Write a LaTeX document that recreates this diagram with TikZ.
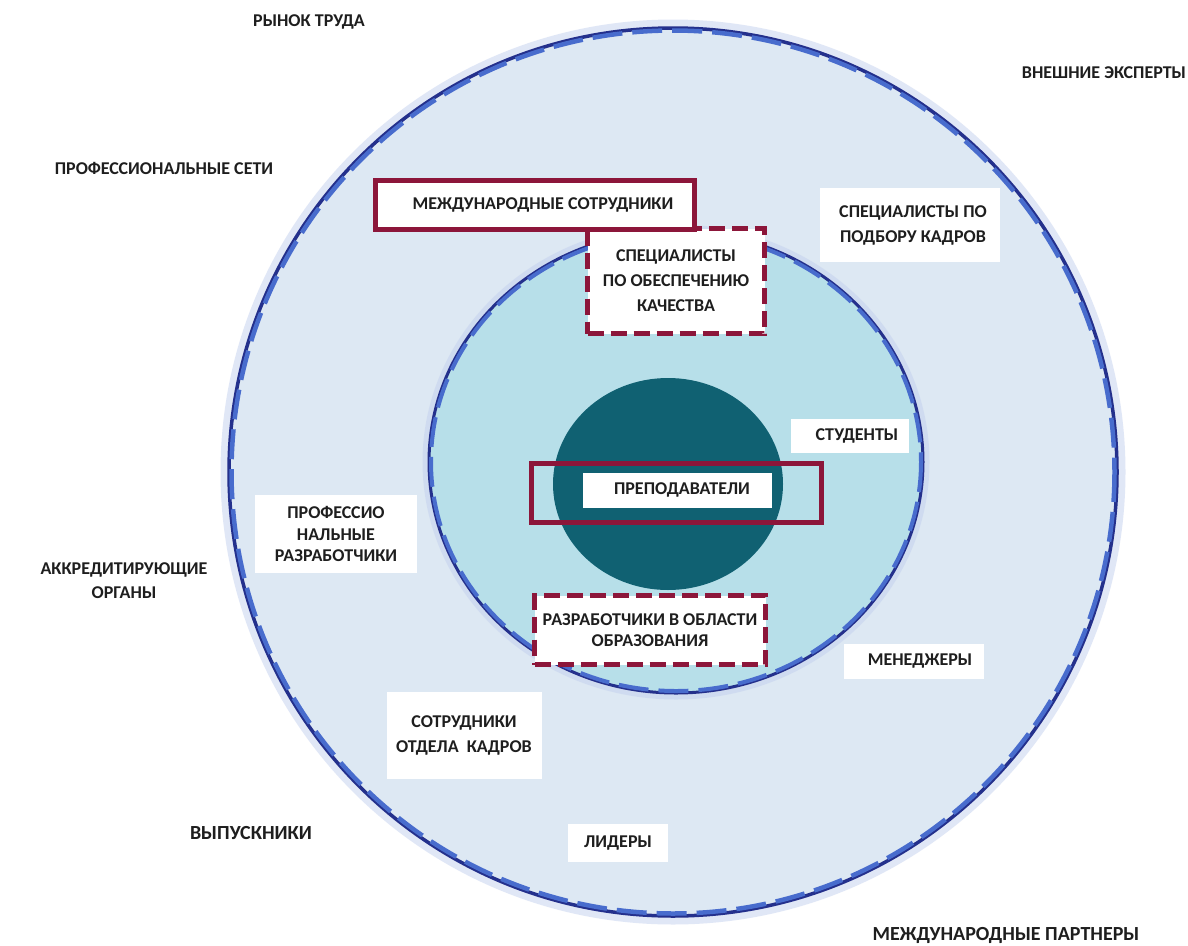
\documentclass[tikz,border=0pt]{standalone}
\usepackage{fontspec}
\setmainfont{Carlito}
\definecolor{outerfill}{RGB}{221,232,243}
\definecolor{midfill}{RGB}{183,223,233}
\definecolor{corefill}{RGB}{16,97,114}
\definecolor{navy}{RGB}{36,48,140}
\definecolor{dashblue}{RGB}{72,108,205}
\definecolor{glow}{RGB}{195,208,238}
\definecolor{wine}{RGB}{140,22,58}
\definecolor{textc}{RGB}{30,30,30}
\begin{document}
\begin{tikzpicture}[x=1pt,y=-1pt,
  lbl/.style={font=\fontsize{18}{25}\selectfont\bfseries, text=textc, align=center, inner sep=0pt},
  wbox/.style={lbl, fill=white},
  redsolid/.style={draw=wine, line width=5pt},
  reddash/.style={draw=wine, line width=5.5pt, dash pattern=on 16pt off 7pt},
  ringline/.style={draw=navy, line width=3.5pt},
  ringdash/.style={draw=dashblue, line width=4.5pt, dash pattern=on 30pt off 10pt}
]
\useasboundingbox[fill=white] (0,0) rectangle (1188,945);

% outer circle
\fill[outerfill] (673,472) circle [radius=443];
\draw[glow, line width=9pt, opacity=0.5] (673,472) circle [radius=448];
\draw[ringline] (673,472) circle [radius=444];
\draw[ringdash] (673,472) circle [radius=441.5];

% middle circle
\fill[midfill] (676,462) ellipse [x radius=246, y radius=230];
\draw[glow, line width=7pt, opacity=0.5] (676,462) ellipse [x radius=250, y radius=234];
\draw[ringline, line width=3pt] (676,462) ellipse [x radius=247, y radius=231];
\draw[ringdash, line width=4pt] (676,462) ellipse [x radius=245, y radius=229];

% core
\fill[corefill] (668,484) ellipse [x radius=115, y radius=106];

% outside labels
\node[lbl] (rynok) at (309,22) {РЫНОК ТРУДА};
\node[lbl] (vnesh) at (1104,73) {ВНЕШНИЕ ЭКСПЕРТЫ};
\node[lbl] (profseti) at (164,168) {ПРОФЕССИОНАЛЬНЫЕ СЕТИ};
\node[lbl, font=\fontsize{18}{24}\selectfont\bfseries] (akkr) at (124,581) {АККРЕДИТИРУЮЩИЕ\\ОРГАНЫ};
\node[lbl, font=\fontsize{20}{24}\selectfont\bfseries] (vypusk) at (251,833) {ВЫПУСКНИКИ};
\node[lbl, font=\fontsize{20}{24}\selectfont\bfseries] (mezhpart) at (1006,935) {МЕЖДУНАРОДНЫЕ ПАРТНЕРЫ};

% white boxes in outer ring
\node[wbox, minimum width=180, minimum height=74] (podbor) at (910,225) {\hspace*{6pt}СПЕЦИАЛИСТЫ ПО\\\hspace*{6pt}ПОДБОРУ КАДРОВ};
\node[wbox, minimum width=162, minimum height=78, font=\fontsize{18}{21.5}\selectfont\bfseries] (profrazr) at (336,534) {ПРОФЕССИО\\НАЛЬНЫЕ\\РАЗРАБОТЧИКИ};
\node[wbox, minimum width=155, minimum height=87] (sotrud) at (464,735) {СОТРУДНИКИ\\ОТДЕЛА\ \ КАДРОВ};
\node[wbox, minimum width=100, minimum height=38] (lidery) at (618,843) {ЛИДЕРЫ};
\node[wbox, minimum width=140, minimum height=35] (menedzh) at (914,661) {\hspace*{12pt}МЕНЕДЖЕРЫ};
\node[wbox, minimum width=118, minimum height=34] (studenty) at (850,436) {\hspace*{14pt}СТУДЕНТЫ};

% dashed red boxes
\node[wbox, reddash, minimum width=177, minimum height=105] (kach) at (676,281) {СПЕЦИАЛИСТЫ\\ПО ОБЕСПЕЧЕНИЮ\\КАЧЕСТВА};
\node[wbox, reddash, minimum width=231, minimum height=69, font=\fontsize{18}{21}\selectfont\bfseries] (razrab) at (650,630) {РАЗРАБОТЧИКИ В ОБЛАСТИ\\ОБРАЗОВАНИЯ};

% solid red boxes
\node[wbox, redsolid, minimum width=319, minimum height=49] (mezhsotr) at (535,205) {\hspace*{16pt}МЕЖДУНАРОДНЫЕ СОТРУДНИКИ};
\node[redsolid, minimum width=290, minimum height=59, inner sep=0pt] (prepodframe) at (676.5,493) {};
\node[wbox, minimum width=189, minimum height=35] (prepod) at (677,490) {\hspace*{10pt}ПРЕПОДАВАТЕЛИ};
\end{tikzpicture}
\end{document}
